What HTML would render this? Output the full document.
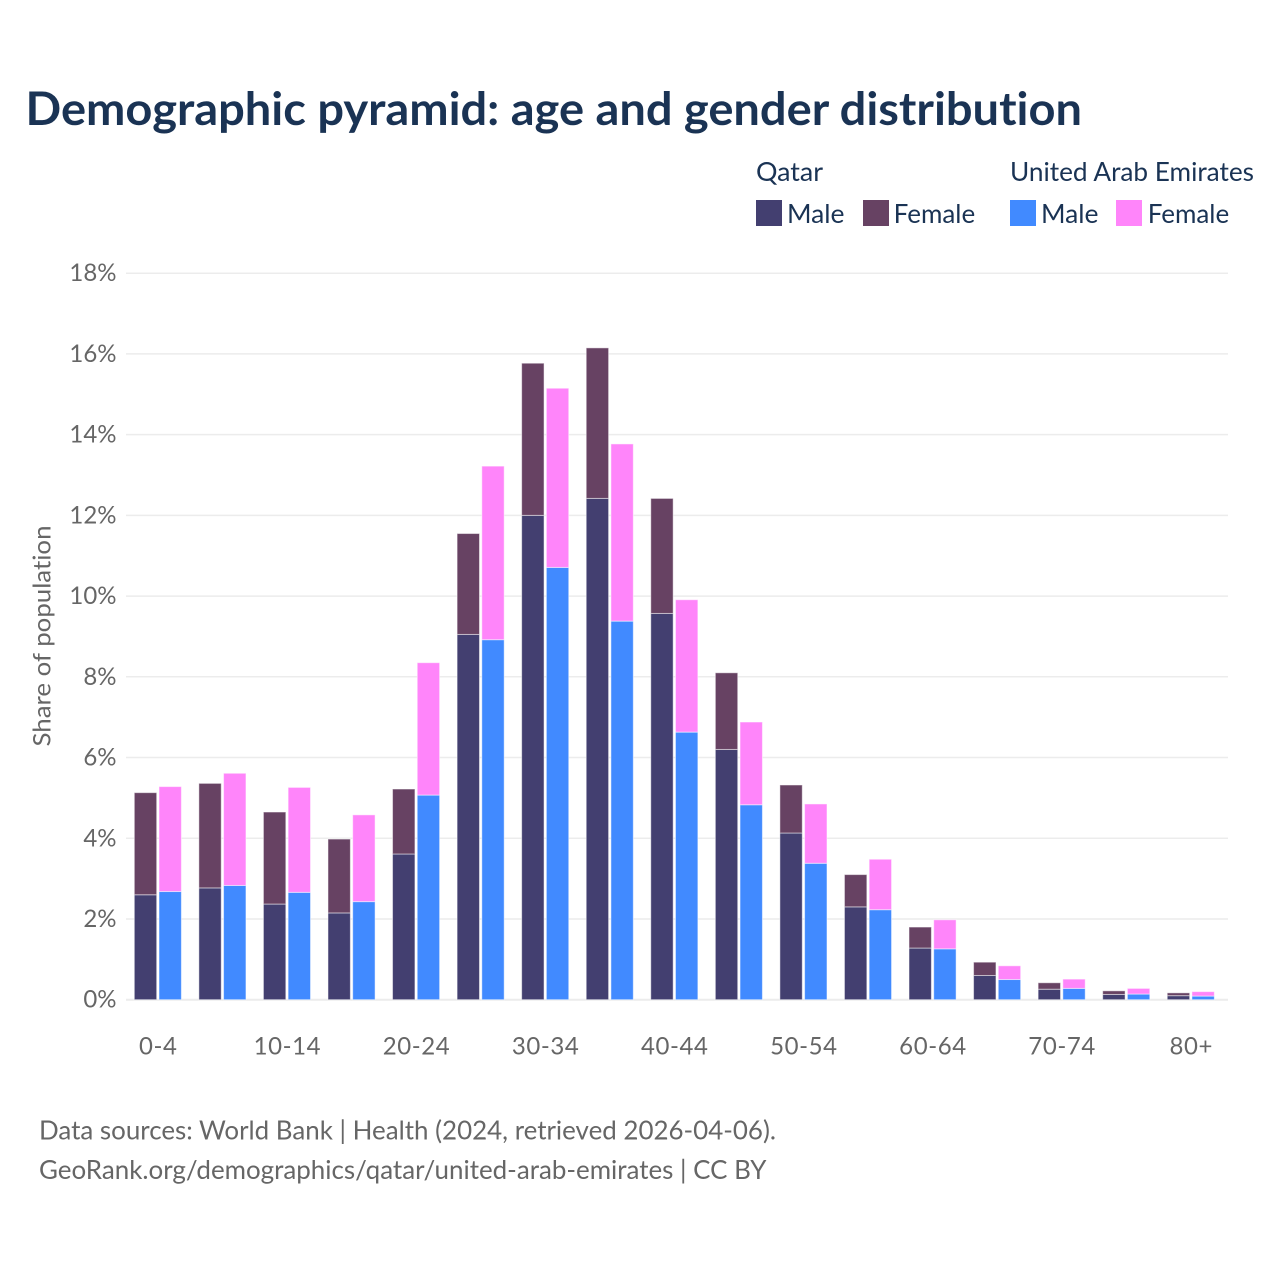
<!DOCTYPE html>
<html lang="en">
<head>
<meta charset="utf-8">
<title>Demographic pyramid: age and gender distribution</title>
<style>
html,body{margin:0;padding:0;background:#fff;width:1280px;height:1280px;overflow:hidden}
svg{display:block}
text{font-family:"Lato","Carlito","Liberation Sans",sans-serif;font-variant-ligatures:none}
.head{fill:#1a3354}
.muted{fill:#666}
</style>
</head>
<body>
<svg id="chart" xmlns="http://www.w3.org/2000/svg" width="1280" height="1280" viewBox="0 0 1280 1280">
  <rect width="1280" height="1280" fill="#fff"/>
  <text class="head" x="25.5" y="125" font-size="46" font-weight="700" textLength="1056.5" lengthAdjust="spacingAndGlyphs">Demographic pyramid: age and gender distribution</text>

  <g>
    <text class="head" x="756" y="181" font-size="26" textLength="67" lengthAdjust="spacingAndGlyphs">Qatar</text>
    <text class="head" x="1010" y="181" font-size="26" textLength="244" lengthAdjust="spacingAndGlyphs">United Arab Emirates</text>
    <rect x="756" y="200" width="26" height="26" fill="#433f70"/>
    <text class="head" x="787" y="223" font-size="26" textLength="57.5" lengthAdjust="spacingAndGlyphs">Male</text>
    <rect x="863" y="200" width="26" height="26" fill="#674263"/>
    <text class="head" x="893.7" y="223" font-size="26" textLength="81.5" lengthAdjust="spacingAndGlyphs">Female</text>
    <rect x="1010" y="200" width="26" height="26" fill="#418aff"/>
    <text class="head" x="1041" y="223" font-size="26" textLength="57.5" lengthAdjust="spacingAndGlyphs">Male</text>
    <rect x="1116" y="200" width="26" height="26" fill="#ff85fa"/>
    <text class="head" x="1147.7" y="223" font-size="26" textLength="81.5" lengthAdjust="spacingAndGlyphs">Female</text>
  </g>

  <g id="grid"></g>
  <g id="bars"></g>
  <g id="yticks"></g>
  <g id="xticks"></g>

  <text class="muted" transform="translate(50.5,636) rotate(-90)" text-anchor="middle" font-size="24" textLength="221" lengthAdjust="spacingAndGlyphs">Share of population</text>

  <text class="muted" x="39" y="1139.6" font-size="26" textLength="737" lengthAdjust="spacingAndGlyphs">Data sources: World Bank | Health (2024, retrieved 2026-04-06).</text>
  <text class="muted" x="39" y="1179" font-size="26" textLength="727.5" lengthAdjust="spacingAndGlyphs">GeoRank.org/demographics/qatar/united-arab-emirates | CC BY</text>
</svg>
<script>
const categories = ["0-4","5-9","10-14","15-19","20-24","25-29","30-34","35-39","40-44","45-49","50-54","55-59","60-64","65-69","70-74","75-79","80+"];
const xTickLabels = ["0-4","10-14","20-24","30-34","40-44","50-54","60-64","70-74","80+"];
const yTickValues = [0,2,4,6,8,10,12,14,16,18];
const qatarMale = [2.60,2.77,2.37,2.15,3.61,9.05,12.00,12.42,9.57,6.20,4.13,2.30,1.28,0.60,0.26,0.13,0.10];
const qatarFemale = [2.53,2.59,2.28,1.83,1.61,2.50,3.77,3.73,2.85,1.90,1.19,0.80,0.52,0.33,0.16,0.09,0.07];
const uaeMale = [2.68,2.83,2.66,2.43,5.07,8.92,10.71,9.38,6.63,4.83,3.38,2.23,1.26,0.50,0.28,0.14,0.09];
const uaeFemale = [2.60,2.78,2.60,2.15,3.28,4.30,4.44,4.39,3.28,2.05,1.47,1.25,0.72,0.34,0.23,0.14,0.11];

const NS = "http://www.w3.org/2000/svg";
const plotLeft = 125.7, plotRight = 1223.2, gridRight = 1228, y0 = 999.7, yMaxPx = 273.2, yMax = 18;
const step = (plotRight - plotLeft) / categories.length;
const barW = 22.4;
const yScale = v => y0 - (v / yMax) * (y0 - yMaxPx);
const xBand = c => plotLeft + categories.indexOf(c) * step;

const grid = document.getElementById("grid");
const bars = document.getElementById("bars");
const yticks = document.getElementById("yticks");
const xticks = document.getElementById("xticks");

yTickValues.forEach(v => {
  const line = document.createElementNS(NS, "line");
  line.setAttribute("x1", 126);
  line.setAttribute("x2", gridRight);
  line.setAttribute("y1", yScale(v));
  line.setAttribute("y2", yScale(v));
  line.setAttribute("stroke", "#ececec");
  line.setAttribute("stroke-width", v === 0 ? 2 : 1.5);
  
  
  grid.appendChild(line);

  const t = document.createElementNS(NS, "text");
  t.setAttribute("x", 116.5);
  t.setAttribute("y", yScale(v) + 8);
  t.setAttribute("text-anchor", "end");
  t.setAttribute("font-size", 24);
  t.setAttribute("class", "muted");
  t.textContent = v + "%";
  
  
  yticks.appendChild(t);
});

function addSegment(x, base, value, fill) {
  const r = document.createElementNS(NS, "rect");
  r.setAttribute("x", x);
  r.setAttribute("y", yScale(base + value));
  r.setAttribute("width", barW);
  r.setAttribute("height", yScale(base) - yScale(base + value));
  r.setAttribute("fill", fill);
  r.setAttribute("stroke", "#fff");
  r.setAttribute("stroke-opacity", "0.5");
  r.setAttribute("stroke-width", 1);
  
  
  bars.appendChild(r);
}

categories.forEach((c, i) => {
  const b = xBand(c);
  const xQ = b + 8.6;
  const xU = b + 33.3;
  addSegment(xQ, 0, qatarMale[i], "#433f70");
  addSegment(xQ, qatarMale[i], qatarFemale[i], "#674263");
  addSegment(xU, 0, uaeMale[i], "#418aff");
  addSegment(xU, uaeMale[i], uaeFemale[i], "#ff85fa");
});

xTickLabels.forEach(c => {
  const t = document.createElementNS(NS, "text");
  t.setAttribute("x", xBand(c) + step / 2 + 0.3);
  t.setAttribute("y", 1054.6);
  t.setAttribute("text-anchor", "middle");
  t.setAttribute("font-size", 24);
  t.setAttribute("letter-spacing", "0.6");
  t.setAttribute("class", "muted");
  t.textContent = c;
  
  
  xticks.appendChild(t);
});
</script>
</body>
</html>
